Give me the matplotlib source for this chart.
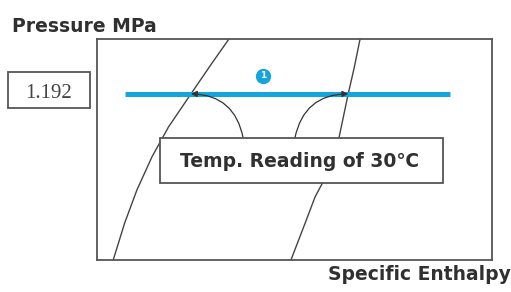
"""Schematic p-h diagram: reading the condensing pressure from a temperature."""

import matplotlib

matplotlib.use("Agg")
import matplotlib.pyplot as plt
import numpy as np
from matplotlib.patches import Rectangle

# saturated liquid line (specific enthalpy, pressure), arbitrary enthalpy units
liquid_h = [4.1, 7.0, 10.1, 13.9, 18.1, 23.8, 28.6, 33.4]
liquid_p = [0.0, 0.265, 0.502, 0.739, 0.954, 1.192, 1.391, 1.585]

# saturated vapour line
vapour_h = [49.1, 52.7, 55.2, 57.2, 61.3, 63.6, 65.1, 66.6]
vapour_p = [0.0, 0.265, 0.452, 0.559, 0.882, 1.192, 1.377, 1.585]

pressure_reading = 1.192
pressure_label = "1.192"
line_h = [7.1, 89.4]
marker_h = 42.0
marker_p = 1.32
marker_text = "1"
reading_text = "Temp. Reading of 30\u2103"
x_label = "Specific Enthalpy"
y_label = "Pressure MPa"

H_MAX = 100.0
P_MAX = 1.585
BLUE = "#14a5dc"
GREY = "#555555"
TEXT = "#303030"

fig = plt.figure(figsize=(5.11, 2.92), dpi=100)
ax = fig.add_axes([97 / 511, 32 / 292, 395 / 511, 221 / 292])
ax.set_xlim(0, H_MAX)
ax.set_ylim(0, P_MAX)
ax.set_xticks([])
ax.set_yticks([])
for spine in ax.spines.values():
    spine.set_color(GREY)
    spine.set_linewidth(1.3)

ax.plot(liquid_h, liquid_p, color="#444444", lw=1.0, zorder=2)
ax.plot(vapour_h, vapour_p, color="#444444", lw=1.0, zorder=2)

# constant pressure line at the reading
ax.plot(line_h, [pressure_reading] * 2, color=BLUE, lw=3.6, solid_capstyle="butt", zorder=3)
ax.plot(marker_h, marker_p, "o", ms=10, color=BLUE, zorder=4)
ax.text(marker_h, marker_p, marker_text, color="white", fontsize=6.5, fontweight="bold",
        ha="center", va="center", zorder=5)

# callout box with the temperature reading
box_left, box_right = 15.95, 87.6
box_bottom, box_top = 0.552, 0.875
ax.add_patch(Rectangle((box_left, box_bottom), box_right - box_left, box_top - box_bottom,
                       facecolor="white", edgecolor=GREY, lw=1.3, zorder=6))
ax.text(51.4, 0.71, reading_text, fontsize=13.5, fontweight="bold", color=TEXT,
        ha="center", va="center", zorder=7)

# arrows from the box to both saturation points
h_liq = np.interp(pressure_reading, liquid_p, liquid_h)
h_vap = np.interp(pressure_reading, vapour_p, vapour_h)
arrow_kw = dict(arrowstyle="-|>,head_length=0.35,head_width=0.18", color="#333333", lw=0.9,
                shrinkA=0, shrinkB=0)
ax.annotate("", xy=(h_liq, pressure_reading), xytext=(37.0, box_top),
            arrowprops=dict(connectionstyle="arc3,rad=0.4", **arrow_kw), zorder=4)
ax.annotate("", xy=(h_vap, pressure_reading), xytext=(50.1, box_top),
            arrowprops=dict(connectionstyle="arc3,rad=-0.4", **arrow_kw), zorder=4)

# pressure value box left of the axes
ytrans = ax.get_yaxis_transform()
ax.add_patch(Rectangle((-0.2253, 1.090), 0.2076, 0.258, transform=ytrans, clip_on=False,
                       facecolor="white", edgecolor=GREY, lw=1.3))
ax.text(-0.1215, pressure_reading, pressure_label, transform=ytrans, fontsize=15,
        family="Liberation Serif", color="#444444", ha="center", va="center")

fig.text(12 / 511, 1 - 26 / 292, y_label, fontsize=13.5, fontweight="bold", color=TEXT,
         ha="left", va="center")
fig.text(1.0, 1 - 274 / 292, x_label, fontsize=13.5, fontweight="bold", color=TEXT,
         ha="right", va="center")

fig.savefig("out.png", dpi=100)
plt.close(fig)
